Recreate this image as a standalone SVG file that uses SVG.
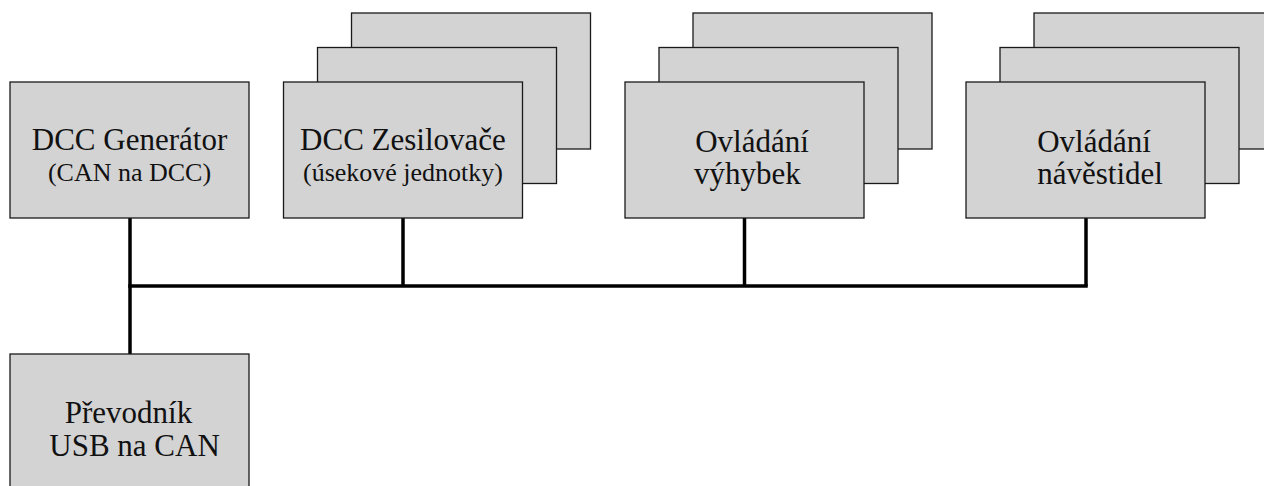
<svg xmlns="http://www.w3.org/2000/svg" width="1264" height="486" viewBox="0 0 1264 486">
  <style>
    .box { fill: #d3d3d3; stroke: #1a1a1a; stroke-width: 1.3; }
    .bus { fill: none; stroke: #000; stroke-width: 3.5; stroke-linecap: butt; }
    .t1 { font-size: 31px; fill: #111; }
    .t2 { font-size: 26px; fill: #111; }
  </style>
  <rect width="1264" height="486" fill="#fff"/>

  <!-- CAN bus: trunk with a drop to every module -->
  <g id="connectors">
    <line class="bus" x1="130" y1="218" x2="130" y2="354"/>
    <line class="bus" x1="128.25" y1="286" x2="1087.75" y2="286"/>
    <line class="bus" x1="403" y1="218" x2="403" y2="286"/>
    <line class="bus" x1="744.5" y1="218" x2="744.5" y2="286"/>
    <line class="bus" x1="1086" y1="218" x2="1086" y2="286"/>
  </g>

  <g id="generator">
    <rect class="box" x="10" y="82" width="239" height="136"/>
    <text class="t1" font-family="'Liberation Serif'" x="31.8" y="150">DCC Generátor</text>
    <text class="t2" font-family="'Liberation Serif'" x="47.9" y="180.5">(CAN na DCC)</text>
  </g>

  <!-- stacked cards: several boosters -->
  <g id="boosters">
    <rect class="box" x="351.5" y="13" width="239" height="136"/>
    <rect class="box" x="317.5" y="47.5" width="239" height="136"/>
    <rect class="box" x="283.5" y="82" width="239" height="136"/>
    <text class="t1" font-family="'Liberation Serif'" x="300.1" y="150">DCC Zesilovače</text>
    <text class="t2" font-family="'Liberation Serif'" x="303" y="180.5">(úsekové jednotky)</text>
  </g>

  <g id="turnouts">
    <rect class="box" x="693" y="13" width="239" height="136"/>
    <rect class="box" x="659" y="47.5" width="239" height="136"/>
    <rect class="box" x="625" y="82" width="239" height="136"/>
    <text class="t1" font-family="'Liberation Serif'" x="695.2" y="152">Ovládání</text>
    <text class="t1" font-family="'Liberation Serif'" x="694.1" y="183.5">výhybek</text>
  </g>

  <g id="signals">
    <rect class="box" x="1034" y="13" width="239" height="136"/>
    <rect class="box" x="1000" y="47.5" width="239" height="136"/>
    <rect class="box" x="966" y="82" width="239" height="136"/>
    <text class="t1" font-family="'Liberation Serif'" x="1037.2" y="152">Ovládání</text>
    <text class="t1" font-family="'Liberation Serif'" x="1037.2" y="183.5">návěstidel</text>
  </g>

  <g id="usb-converter">
    <rect class="box" x="10" y="354" width="239" height="140"/>
    <text class="t1" font-family="'Liberation Serif'" x="64.8" y="423">Převodník</text>
    <text class="t1" font-family="'Liberation Serif'" x="49.3" y="455.5">USB na CAN</text>
  </g>
</svg>
